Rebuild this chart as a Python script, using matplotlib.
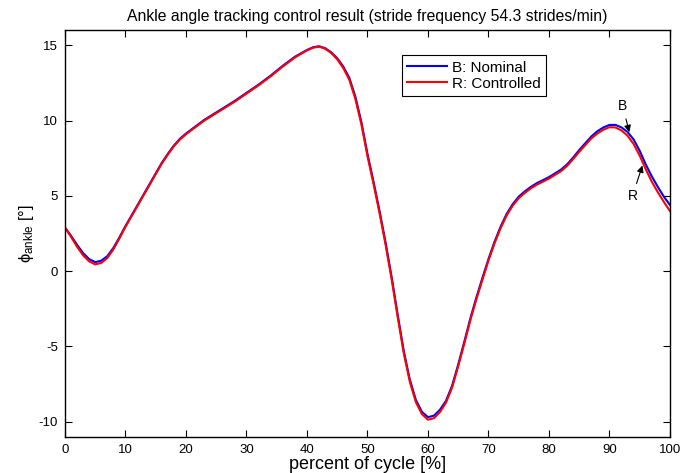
import matplotlib
matplotlib.use('Agg')
import matplotlib.pyplot as plt

plt.rcParams['font.family'] = ['Liberation Sans', 'DejaVu Sans']
plt.rcParams['mathtext.fontset'] = 'custom'
plt.rcParams['mathtext.rm'] = 'Liberation Sans'
plt.rcParams['mathtext.it'] = 'Liberation Sans:italic'
plt.rcParams['axes.unicode_minus'] = False

# percent of gait cycle
cycle = (list(range(0, 25)) + list(range(26, 41, 2)) + list(range(41, 101)))

# B: nominal ankle angle [deg]
nominal = [2.9, 2.35, 1.75, 1.2, 0.8, 0.6, 0.7, 1.0, 1.55, 2.25, 3.0, 3.7, 4.4,
           5.1, 5.8, 6.5, 7.2, 7.8, 8.35, 8.8, 9.15, 9.45, 9.75, 10.05, 10.3,
           10.8, 11.3, 11.85, 12.4, 13.0, 13.65, 14.25, 14.7,
           14.88, 14.95, 14.82, 14.55, 14.15, 13.6, 12.85, 11.6, 9.9, 7.8,
           5.95, 4.0, 1.9, -0.4, -2.9, -5.3, -7.2, -8.55, -9.35, -9.7,
           -9.6, -9.2, -8.6, -7.6, -6.2, -4.7, -3.15, -1.75, -0.45, 0.8,
           1.95, 2.95, 3.8, 4.45, 4.95, 5.3, 5.6, 5.85, 6.05, 6.25,
           6.5, 6.75, 7.1, 7.55, 8.05, 8.5, 8.95, 9.3, 9.55, 9.72,
           9.72, 9.55, 9.25, 8.75, 8.0, 7.1, 6.3, 5.6, 4.95, 4.4]

# R: controlled ankle angle [deg]
controlled = [2.9, 2.28, 1.62, 1.05, 0.65, 0.45, 0.55, 0.88, 1.45, 2.18, 2.95,
              3.65, 4.35, 5.05, 5.75, 6.45, 7.15, 7.75, 8.3, 8.75, 9.1, 9.4,
              9.7, 10.0, 10.25,
              10.75, 11.25, 11.8, 12.35, 12.95, 13.6, 14.2, 14.67,
              14.85, 14.92, 14.78, 14.5, 14.08, 13.5, 12.72, 11.45, 9.75, 7.65,
              5.8, 3.85, 1.75, -0.55, -3.05, -5.45, -7.35, -8.7, -9.5, -9.87,
              -9.77, -9.35, -8.72, -7.72, -6.32, -4.82, -3.27, -1.87, -0.57, 0.7,
              1.85, 2.85, 3.7, 4.35, 4.85, 5.2, 5.5, 5.75, 5.95, 6.15,
              6.4, 6.65, 7.0, 7.45, 7.93, 8.38, 8.82, 9.15, 9.4, 9.57,
              9.55, 9.35, 9.0, 8.45, 7.68, 6.78, 5.95, 5.25, 4.6, 4.0]

fig = plt.figure(figsize=(6.82, 4.73), dpi=100)
ax = fig.add_axes([0.0953, 0.0767, 0.887, 0.859])

ax.plot(cycle, nominal, color='b', lw=1.5, label='B: Nominal')
ax.plot(cycle, controlled, color='r', lw=1.5, label='R: Controlled')

ax.set_xlim(0, 100)
ax.set_ylim(-11, 16)
ax.set_xticks(range(0, 101, 10))
ax.set_yticks([-10, -5, 0, 5, 10, 15])
ax.tick_params(direction='in', top=True, right=True, length=5, width=0.8,
               labelsize=9.5, pad=5)
for s in ax.spines.values():
    s.set_linewidth(1.0)

ax.set_title('Ankle angle tracking control result (stride frequency 54.3 strides/min)',
             fontsize=11.3, pad=7)
ax.set_xlabel('percent of cycle [%]', fontsize=13, labelpad=0)
ax.set_ylabel(r'$\mathrm{\phi}_{\mathrm{ankle}}$ [°]', fontsize=12, labelpad=2)

leg = ax.legend(loc='upper left', bbox_to_anchor=(0.557, 0.939), borderaxespad=0,
                fancybox=False, edgecolor='k', framealpha=1, fontsize=11,
                handlelength=2.6, handletextpad=0.35, borderpad=0.35,
                labelspacing=0.15)
leg.get_frame().set_linewidth(0.8)

ax.annotate('B', xy=(93.4, 9.06), xytext=(92.2, 10.95), fontsize=10,
            ha='center', va='center',
            arrowprops=dict(arrowstyle='-|>', color='k', lw=0.8,
                            mutation_scale=10))
ax.annotate('R', xy=(95.6, 7.2), xytext=(93.8, 5.0), fontsize=10,
            ha='center', va='center',
            arrowprops=dict(arrowstyle='-|>', color='k', lw=0.8,
                            mutation_scale=10))

fig.savefig('out.png', dpi=100)
